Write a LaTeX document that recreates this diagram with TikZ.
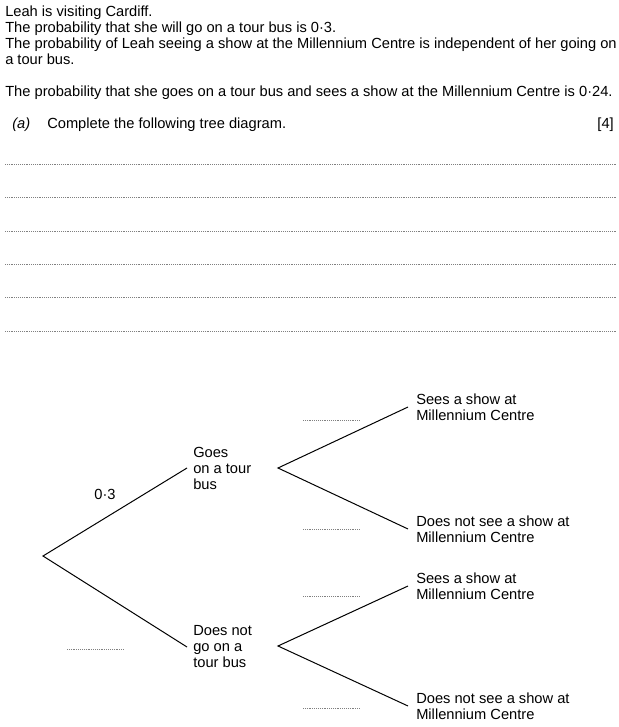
\documentclass[tikz,border=0pt]{standalone}
\usepackage{fontspec}
\setmainfont{Liberation Sans}
\usetikzlibrary{positioning}

\begin{document}
\begin{tikzpicture}[x=0.75pt, y=-0.75pt,
        every node/.style={font=\fontsize{11}{12}\selectfont},
        txt/.style={anchor=base west, inner sep=0pt},
        outcome/.style={anchor=west, align=left, inner ysep=0pt},
        branch/.style={line width=0.75pt},
        blank/.style={gray, line width=0.5pt, dash pattern=on 0.6pt off 0.8pt}]
    \useasboundingbox (0,0) rectangle (618,727);
    % question text
    \node[txt] (leah) at (5,17) {Leah is visiting Cardiff.};
    \node[txt] (bus) at (5,33) {The probability that she will go on a tour bus is 0·3.};
    \node[txt] (indep) at (5,49) {The probability of Leah seeing a show at the Millennium Centre is independent of her going on};
    \node[txt] (indep2) at (5,65) {a tour bus.};
    \node[txt] (joint) at (5,97) {The probability that she goes on a tour bus and sees a show at the Millennium Centre is 0·24.};
    \node[txt] (parta) at (12,129) {\itshape (a)};
    \node[txt] (task) at (47,129) {Complete the following tree diagram.};
    \node[anchor=base east, inner sep=0pt] (marks) at (614,129) {[4]};
    % answer lines
    \foreach \y in {164,197,231,264,297,331}
        \draw[blank] (5,\y) -- (617,\y);
    % first stage
    \coordinate (root) at (43,556);
    \node[outcome, inner xsep=4.5pt] (goes) at (187,468) {Goes\\on a tour\\bus};
    \node[outcome, inner xsep=4.5pt] (nogo) at (187,647) {Does not\\go on a\\tour bus};
    \draw[branch] (goes.west) -- (root) -- (nogo.west);
    \node (p1) at (105,494) {0·3};
    \draw[blank] (67,649) -- (124,649);
    % second stage
    \coordinate (v1) at (278,468);
    \coordinate (v2) at (278,646);
    \node[outcome, inner xsep=6pt] (s1) at (408,407) {Sees a show at\\Millennium Centre};
    \node[outcome, inner xsep=6pt] (n1) at (408,529) {Does not see a show at\\Millennium Centre};
    \node[outcome, inner xsep=6pt] (s2) at (408,586) {Sees a show at\\Millennium Centre};
    \node[outcome, inner xsep=6pt] (n2) at (408,706) {Does not see a show at\\Millennium Centre};
    \draw[branch] (s1.west) -- (v1) -- (n1.west);
    \draw[branch] (s2.west) -- (v2) -- (n2.west);
    \foreach \y in {420,529,596,708}
        \draw[blank] (303,\y) -- (360,\y);
\end{tikzpicture}
\end{document}
